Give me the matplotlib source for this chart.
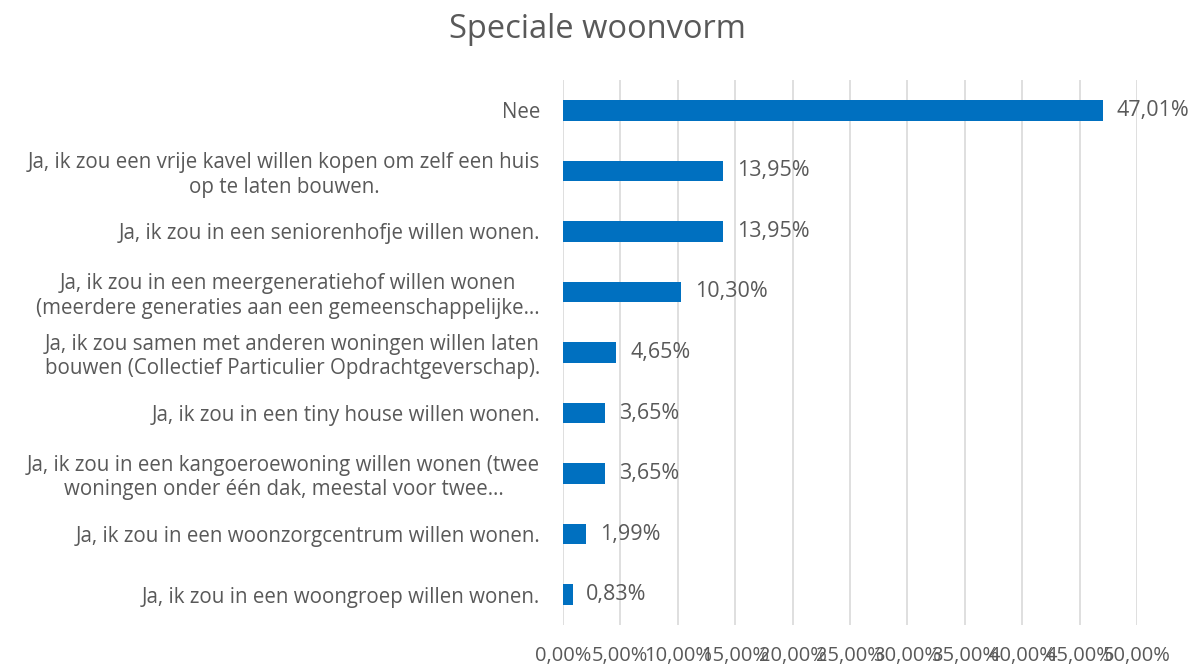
import matplotlib
matplotlib.use("Agg")
import matplotlib.pyplot as plt
from matplotlib.ticker import FuncFormatter

# answers, top to bottom
categories = [
    "Nee",
    "Ja, ik zou een vrije kavel willen kopen om zelf een huis\nop te laten bouwen.",
    "Ja, ik zou in een seniorenhofje willen wonen.",
    "Ja, ik zou in een meergeneratiehof willen wonen\n(meerdere generaties aan een gemeenschappelijke…",
    "Ja, ik zou samen met anderen woningen willen laten\nbouwen (Collectief Particulier Opdrachtgeverschap).",
    "Ja, ik zou in een tiny house willen wonen.",
    "Ja, ik zou in een kangoeroewoning willen wonen (twee\nwoningen onder één dak, meestal voor twee…",
    "Ja, ik zou in een woonzorgcentrum willen wonen.",
    "Ja, ik zou in een woongroep willen wonen.",
]
values = [47.01, 13.95, 13.95, 10.30, 4.65, 3.65, 3.65, 1.99, 0.83]
xticks = [0, 5, 10, 15, 20, 25, 30, 35, 40, 45, 50]

txt = "#595959"
plt.rcParams["font.family"] = ["Open Sans", "DejaVu Sans"]

fig = plt.figure(figsize=(12.04, 6.66), dpi=100)
ax = fig.add_axes([0.4676, 0.0616, 0.4768, 0.8183])

ypos = list(range(len(categories)))
ax.barh(ypos, values, height=0.34, color="#0070C0", zorder=3)
ax.set_ylim(len(categories) - 0.5, -0.5)
ax.set_xlim(0, 50)

# value labels
for y, v in zip(ypos, values):
    ax.text(v + 1.2, y, "{:.2f}%".format(v).replace(".", ","),
            va="center", ha="left", fontsize=15.5, color=txt)

ax.set_yticks(ypos)
ax.set_yticklabels(categories, fontsize=14.8, color=txt,
                   multialignment="center")
ax.tick_params(axis="y", length=0, pad=16.5)

ax.set_xticks(xticks)
ax.xaxis.set_major_formatter(FuncFormatter(lambda x, p: "{:.2f}%".format(x).replace(".", ",")))
ax.tick_params(axis="x", length=0, labelsize=14.5, labelcolor=txt, pad=15)

ax.grid(axis="x", color="#d9d9d9", lw=1.2, zorder=0)
for s in ax.spines.values():
    s.set_visible(False)

fig.text(0.496, 0.956, "Speciale woonvorm", ha="center", va="center",
         fontsize=23.5, color=txt)

fig.savefig("out.png", dpi=100)
